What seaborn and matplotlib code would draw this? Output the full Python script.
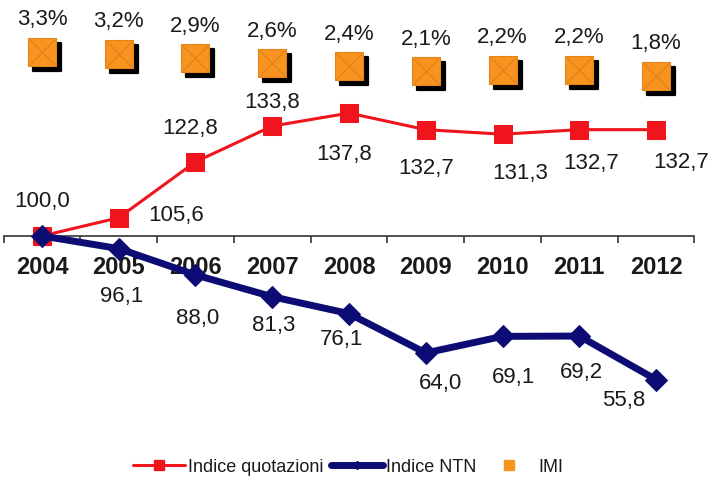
import numpy as np
import pandas as pd
import matplotlib
matplotlib.use('Agg')
import matplotlib.pyplot as plt
import matplotlib.transforms as mtransforms
from matplotlib.lines import Line2D
import seaborn as sns

sns.set_style('white')
plt.rcParams['font.family'] = ['Liberation Sans', 'DejaVu Sans']

# dati
anni = ['2004', '2005', '2006', '2007', '2008', '2009', '2010', '2011', '2012']
quotazioni = [100.0, 105.6, 122.8, 133.8, 137.8, 132.7, 131.3, 132.7, 132.7]
ntn = [100.0, 96.1, 88.0, 81.3, 76.1, 64.0, 69.1, 69.2, 55.8]
imi = [3.3, 3.2, 2.9, 2.6, 2.4, 2.1, 2.2, 2.2, 1.8]

df = pd.DataFrame({'pos': np.arange(len(anni)), 'anno': anni,
                   'quotazioni': quotazioni, 'ntn': ntn, 'imi': imi})

# posizione etichette (pixel rispetto al punto, y verso il basso)
off_q = [(0, -35), (57, -3), (-5, -34), (0, -25), (-5, 40), (0, 38), (18, 38), (12, 33), (25, 32)]
off_n = [(0, 0), (3, 47), (2, 43), (1, 28), (-7, 25), (15, 30), (11, 40), (2, 35), (-32, 20)]

RED = '#f0141c'
NAVY = '#0c0c74'
ORANGE = '#f7931e'
TXT = '#1a1a1a'

fig = plt.figure(figsize=(7.14, 4.89), dpi=100)
ax = fig.add_axes([3.6 / 714, 59 / 489, 690.8 / 714, 430 / 489])
ax2 = ax.twinx()

sns.lineplot(data=df, x='pos', y='ntn', ax=ax, color=NAVY, linewidth=5,
             marker='D', markersize=11, markeredgecolor=NAVY, zorder=3)
sns.lineplot(data=df, x='pos', y='quotazioni', ax=ax, color=RED, linewidth=2.2,
             marker='s', markersize=13.5, markeredgecolor=RED, zorder=2)

ax.set_xlim(-0.5, 8.5)
ax.set_ylim(40.6, 172.9)
ax2.set_ylim(-20.26, 6.61)

# IMI: ombra + quadrato + croce
shadow = mtransforms.offset_copy(ax2.transData, fig=fig, x=5, y=-5, units='dots')
sns.scatterplot(data=df, x='pos', y='imi', ax=ax2, marker='s', s=400,
                color='black', edgecolor='black', transform=shadow, zorder=1, legend=False)
sns.scatterplot(data=df, x='pos', y='imi', ax=ax2, marker='s', s=400,
                color=ORANGE, edgecolor='#e5841a', linewidth=0.8, zorder=2, legend=False)
sns.scatterplot(data=df, x='pos', y='imi', ax=ax2, marker='x', s=330,
                color='#e0801a', linewidth=0.8, zorder=3, legend=False)

for i, v in enumerate(imi):
    ax2.annotate(f'{v:.1f}%'.replace('.', ','), (i, v), xytext=(0, 33 * 0.72),
                 textcoords='offset points', ha='center', va='center',
                 fontsize=16, color=TXT)

for i, v in enumerate(quotazioni):
    dx, dy = off_q[i]
    ax.annotate(f'{v:.1f}'.replace('.', ','), (i, v), xytext=(dx * 0.72, -dy * 0.72),
                textcoords='offset points', ha='center', va='center',
                fontsize=16, color=TXT)
for i, v in enumerate(ntn):
    if i == 0:
        continue
    dx, dy = off_n[i]
    ax.annotate(f'{v:.1f}'.replace('.', ','), (i, v), xytext=(dx * 0.72, -dy * 0.72),
                textcoords='offset points', ha='center', va='center',
                fontsize=16, color=TXT)

# asse orizzontale a quota 100
for a in (ax, ax2):
    for s in ('top', 'left', 'right'):
        a.spines[s].set_visible(False)
ax2.spines['bottom'].set_visible(False)
ax2.set_yticks([])
ax2.set_ylabel('')
ax.spines['bottom'].set_position(('data', 100))
ax.spines['bottom'].set_color('#333333')
ax.spines['bottom'].set_linewidth(1.2)
ax.spines['bottom'].set_zorder(1)
ax.set_yticks([])
ax.set_ylabel('')
ax.set_xlabel('')
ax.set_xticks(df['pos'])
ax.set_xticklabels(anni, fontsize=17, fontweight='bold', color=TXT)
ax.set_xticks(np.arange(-0.5, 9, 1), minor=True)
ax.tick_params(axis='x', which='major', length=0, pad=14)
ax.tick_params(axis='x', which='minor', length=5, width=1.2, color='#333333',
               direction='out', bottom=True)

handles = [
    Line2D([], [], color=RED, linewidth=2.2, marker='s', markersize=7),
    Line2D([], [], color=NAVY, linewidth=5, marker='D', markersize=4),
    Line2D([], [], color=ORANGE, linestyle='none', marker='s', markersize=7),
]
fig.legend(handles, ['Indice quotazioni', 'Indice NTN', 'IMI'], loc='center',
           bbox_to_anchor=(348 / 714, 1 - 468 / 489), ncol=3, frameon=False,
           fontsize=13, handlelength=2.9, handletextpad=0.15, columnspacing=0.4,
           labelcolor=TXT)

fig.savefig('out.png', dpi=100)
plt.close(fig)
